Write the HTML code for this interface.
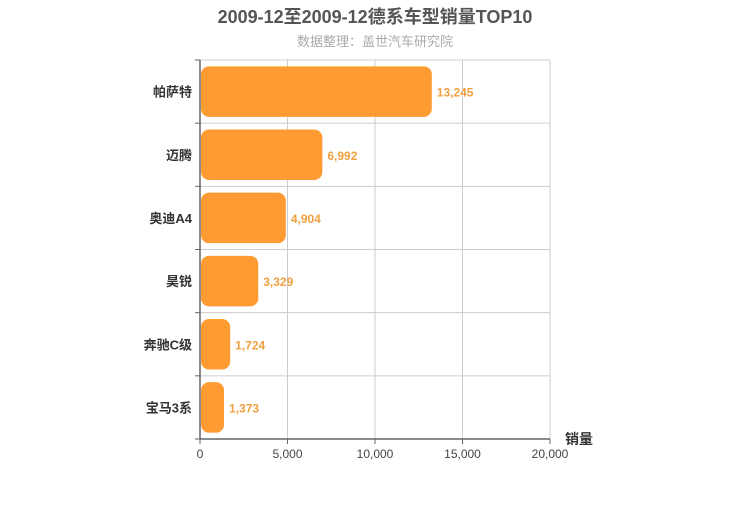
<!DOCTYPE html>
<html><head><meta charset="utf-8"><style>
body{margin:0;background:#fff;width:750px;height:500px;overflow:hidden;font-family:"Liberation Sans","Noto Sans CJK SC",sans-serif}
</style></head><body>
<svg id="chart" width="750" height="500" xmlns="http://www.w3.org/2000/svg" font-family="Liberation Sans, Noto Sans CJK SC, sans-serif">
<text x="375" y="23" text-anchor="middle" font-size="18" font-weight="bold" fill="#555">2009-12至2009-12德系车型销量TOP10</text>
<text x="375" y="46" text-anchor="middle" font-size="13" fill="#aaa">数据整理：盖世汽车研究院</text>
<g id="grid"></g><g id="bars"></g><g id="axes"></g>
<text x="565" y="444" font-size="14" font-weight="bold" fill="#333">销量</text>
</svg>
<script>
const categories=["帕萨特","迈腾","奥迪A4","昊锐","奔驰C级","宝马3系"];
const values=[13245,6992,4904,3329,1724,1373];
const ticks=[0,5000,10000,15000,20000];
const NS="http://www.w3.org/2000/svg";
const X0=200,X1=550,Y0=60,Y1=439,MAX=20000;
const xs=v=>X0+(v/MAX)*(X1-X0);
const band=(Y1-Y0)/categories.length;
function mk(t,a,p){const e=document.createElementNS(NS,t);for(const k in a)e.setAttribute(k,a[k]);p.appendChild(e);return e;}
const grid=document.getElementById('grid'),bars=document.getElementById('bars'),axes=document.getElementById('axes');
ticks.forEach(t=>{
 const l=mk('line',{x1:xs(t),x2:xs(t),y1:Y0,y2:Y1,stroke:'#ccc'},grid);
 
 
 const tk=mk('line',{x1:xs(t),x2:xs(t),y1:Y1,y2:Y1+5,stroke:'#666'},axes);
 
 
 const tx=mk('text',{x:xs(t),y:Y1+19,'text-anchor':'middle','font-size':12,fill:'#444'},axes);
 tx.textContent=t.toLocaleString('en-US');
 
 
});
for(let i=0;i<=categories.length;i++){
 const y=Y0+i*band;
 const h=mk('line',{x1:X0,x2:X1,y1:y,y2:y,stroke:'#ccc'},grid);
 
 
 const tk=mk('line',{x1:X0-5,x2:X0,y1:y,y2:y,stroke:'#666'},axes);
 
 
}
categories.forEach((c,i)=>{
 const yc=Y0+band*(i+0.5),bh=band*0.8;
 const r=mk('rect',{x:X0+1,y:yc-bh/2,width:Math.max(0,xs(values[i])-X0-1),height:bh,rx:8,ry:8,fill:'#ff9b33'},bars);
 
 
 const v=mk('text',{x:xs(values[i])+5,y:yc+5,'font-size':12,'font-weight':'bold',fill:'#f0a040'},bars);
 v.textContent=values[i].toLocaleString('en-US');
 
 
 const t=mk('text',{x:X0-8,y:yc+5,'text-anchor':'end','font-size':13,'font-weight':'bold',fill:'#333'},axes);
 t.textContent=c;
 
 
});
const ya=mk('line',{x1:X0,x2:X0,y1:Y0,y2:Y1,stroke:'#666','stroke-width':1.5},axes);


const xa=mk('line',{x1:X0,x2:X1,y1:Y1,y2:Y1,stroke:'#666','stroke-width':1.5},axes);


</script>
</body></html>
